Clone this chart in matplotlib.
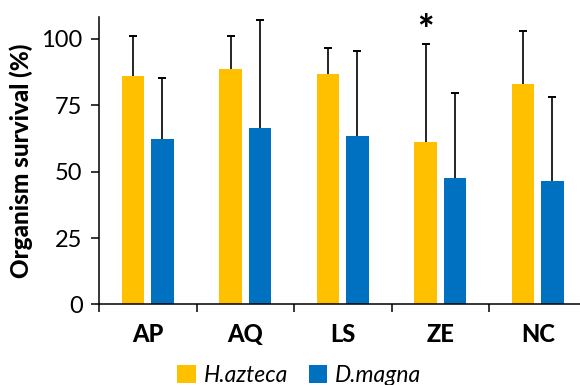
import numpy as np
import matplotlib
matplotlib.use("Agg")
import matplotlib.pyplot as plt
from matplotlib.patches import Patch

# ── DATA ────────────────────────────────────────────────────────────────
sites      = ["AP", "AQ", "LS", "ZE", "NC"]
h_azteca   = [86.0, 88.5, 86.6, 61.1, 83.0]
h_azteca_sd = [15.1, 12.6, 10.1, 36.9, 19.9]
d_magna    = [62.3, 66.6, 63.6, 47.7, 46.4]
d_magna_sd = [22.8, 40.4, 31.9, 32.0, 31.6]
y_ticks    = [0, 25, 50, 75, 100]
signif_site = "ZE"   # H. azteca differs from control

YELLOW = "#FFC000"
BLUE   = "#0070C0"

plt.rcParams["font.family"] = ["Lato", "DejaVu Sans"]

fig = plt.figure(figsize=(5.8, 3.85), dpi=100)
ax = fig.add_axes([0.1707, 0.2091, 0.8405, 0.748])

x = np.arange(len(sites))
w = 0.23
off = 0.15

ax.bar(x - off, h_azteca, width=w, color=YELLOW, zorder=2)
ax.bar(x + off, d_magna, width=w, color=BLUE, zorder=2)

# one-sided (upper) error bars, lower caps hidden
err_kw = dict(fmt="none", ecolor="black", elinewidth=1.2, capsize=3, capthick=1.4, zorder=3)
for xs, ys, sd in [(x - off, h_azteca, h_azteca_sd), (x + off, d_magna, d_magna_sd)]:
    eb = ax.errorbar(xs, ys, yerr=[np.zeros(len(sites)), sd], **err_kw)
    eb[1][0].set_visible(False)

i = sites.index(signif_site)
ax.text(x[i] - off, h_azteca[i] + h_azteca_sd[i] + 4.5, "*", ha="center", va="center",
        fontsize=28, fontweight="black", color="black")

ax.set_xlim(-0.5, len(sites) - 0.5)
ax.set_ylim(0, 108.4)

# ticks between groups, labels under group centres
ax.set_xticks(np.arange(len(sites) + 1) - 0.5)
ax.set_xticklabels([])
ax.set_xticks(x, minor=True)
ax.set_xticklabels(sites, minor=True, fontsize=17, fontweight="black")
ax.tick_params(axis="x", which="major", direction="out", length=5.5, width=1.1)
ax.tick_params(axis="x", which="minor", length=0, pad=13)

ax.set_yticks(y_ticks)
ax.tick_params(axis="y", direction="out", length=5.8, width=1.1, labelsize=17, pad=6)

for side in ["top", "right"]:
    ax.spines[side].set_visible(False)
for side in ["left", "bottom"]:
    ax.spines[side].set_linewidth(1.1)

ax.set_ylabel("Organism survival (%)", fontsize=17.5, fontweight="black")
ax.yaxis.set_label_coords(-0.135, 0.5)

handles = [Patch(facecolor=YELLOW, label="H.azteca"), Patch(facecolor=BLUE, label="D.magna")]
fig.legend(handles=handles, loc="center", bbox_to_anchor=(0.516, 0.025), ncol=2, frameon=False,
           prop={"size": 16.5, "style": "italic"}, handlelength=0.8, handleheight=0.8,
           handletextpad=0.35, columnspacing=0.9, borderpad=0)

fig.savefig("out.png", dpi=100)
